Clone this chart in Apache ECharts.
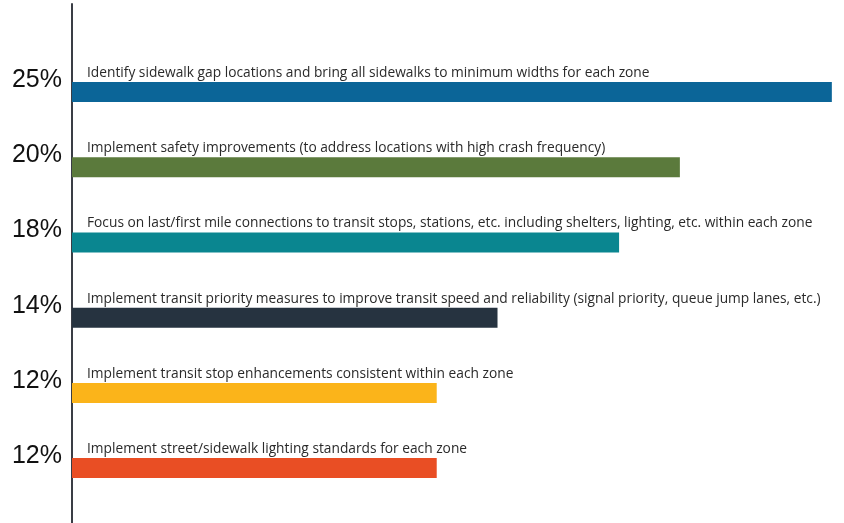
<!DOCTYPE html>
<html>
<head>
<meta charset="utf-8">
<script src="https://cdn.jsdelivr.net/npm/echarts@6/dist/echarts.min.js"></script>
<style>
  html, body { margin: 0; padding: 0; background: #ffffff; }
  #chart { width: 844px; height: 523px; }
</style>
</head>
<body>
<div id="chart"></div>
<script>
// Priority strategies and the share of responses for each
const categories = [
  'Identify sidewalk gap locations and bring all sidewalks to minimum widths for each zone',
  'Implement safety improvements (to address locations with high crash frequency)',
  'Focus on last/first mile connections to transit stops, stations, etc. including shelters, lighting, etc. within each zone',
  'Implement transit priority measures to improve transit speed and reliability (signal priority, queue jump lanes, etc.)',
  'Implement transit stop enhancements consistent within each zone',
  'Implement street/sidewalk lighting standards for each zone'
];
const shares = [25, 20, 18, 14, 12, 12];
const barColors = ['#0b6598', '#5b7a3c', '#0a8690', '#263340', '#fbb41a', '#e94e24'];

const chart = echarts.init(document.getElementById('chart'), null, { renderer: 'canvas' });

chart.setOption({
  backgroundColor: '#ffffff',
  animation: false,
  grid: [
    { left: 72, right: 0, top: 54.5, bottom: 17.3 },
    { left: 72, right: 0, top: 4, bottom: 0 }
  ],
  xAxis: [
    {
      type: 'value', gridIndex: 0, min: 0, max: 25.4,
      show: false
    },
    { type: 'value', gridIndex: 1, show: false }
  ],
  yAxis: [
    {
      type: 'category', gridIndex: 0, data: categories, inverse: true,
      axisLine: { show: false },
      axisTick: { show: false },
      splitLine: { show: false },
      axisLabel: {
        margin: 10,
        fontFamily: 'Liberation Sans, Arial, sans-serif',
        fontSize: 25,
        color: '#111111',
        verticalAlign: 'bottom',
        lineHeight: 24,
        formatter: (v, i) => shares[i] + '%'
      }
    },
    {
      type: 'value', gridIndex: 1,
      axisLine: { show: true, onZero: false, lineStyle: { color: '#3a3d45', width: 2 } },
      axisTick: { show: false },
      axisLabel: { show: false },
      splitLine: { show: false }
    }
  ],
  series: [
    {
      type: 'bar',
      xAxisIndex: 0,
      yAxisIndex: 0,
      barWidth: 20,
      data: shares.map((v, i) => ({ value: v, itemStyle: { color: barColors[i] } })),
      label: {
        show: true,
        position: [15, -9],
        align: 'left',
        verticalAlign: 'middle',
        fontFamily: 'Open Sans, sans-serif',
        fontSize: 13.75,
        color: '#2a2a2a',
        formatter: '{b}'
      }
    }
  ]
});
</script>
</body>
</html>
